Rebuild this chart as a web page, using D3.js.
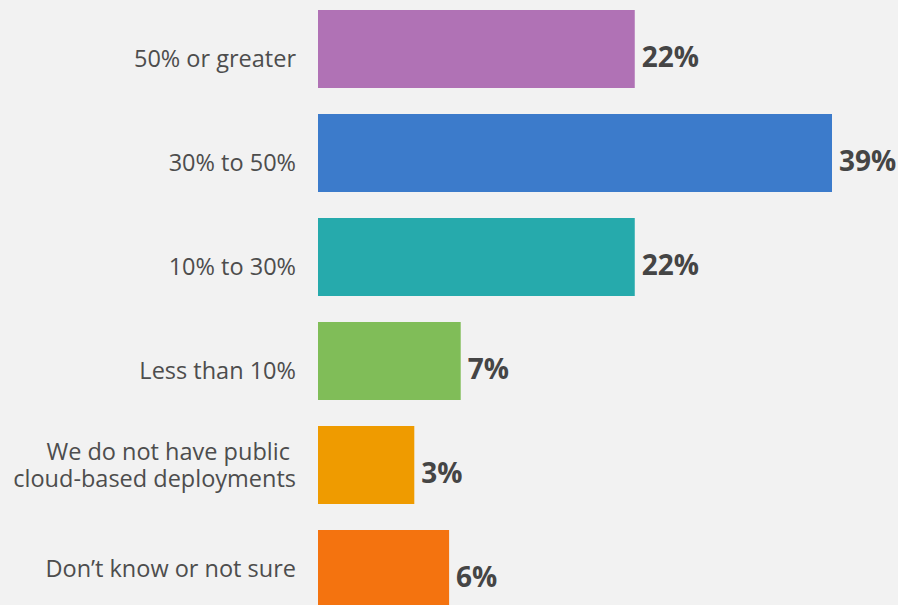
<!DOCTYPE html>
<html>
<head>
<meta charset="utf-8">
<script src="https://cdn.jsdelivr.net/npm/d3@7"></script>
<style>
  html, body { margin: 0; padding: 0; background: #f2f2f2; }
  svg { display: block; }
  text { font-family: "Open Sans", "Noto Sans", sans-serif; white-space: pre; }
</style>
</head>
<body>
<svg id="chart" width="898" height="605"></svg>
<script>
// Share of workloads in public cloud
const categories = [
  "50% or greater",
  "30% to 50%",
  "10% to 30%",
  "Less than 10%",
  "We do not have public \ncloud-based deployments",
  "Don\u2019t know or not sure"
];
const values = [22, 39, 22, 7, 3, 6];
const valueLabels = ["22%", "39%", "22%", "7%", "3%", "6%"];
const colors = ["#b072b5", "#3c7bcb", "#26aaac", "#80bd58", "#ef9b00", "#f4730f"];

const svg = d3.select("#chart");

const data = categories.map((c, i) => ({
  category: c, value: values[i], label: valueLabels[i], color: colors[i]
}));

const x = d3.scaleLinear().domain([-5.3, 39]).range([318, 832]);
const y = d3.scaleBand()
  .domain(categories)
  .range([-3, 621])
  .paddingInner(0.25)
  .paddingOuter(0.125);

// bars
svg.append("g").selectAll("rect")
  .data(data)
  .join("rect")
  .attr("x", x(x.domain()[0]))
  .attr("y", d => y(d.category))
  .attr("width", d => x(d.value) - x(x.domain()[0]))
  .attr("height", y.bandwidth())
  .attr("fill", d => d.color);

// value labels
svg.append("g").selectAll("text")
  .data(data)
  .join("text")
  .attr("x", d => x(d.value) + 7)
  .attr("y", d => y(d.category) + y.bandwidth() / 2 + 18)
  .attr("font-size", 28)
  .attr("font-weight", 700)
  .attr("fill", "#454545")
  .text(d => d.label);

// category labels
const lineHeight = 27;
const catG = svg.append("g");
data.forEach((d, i) => {
  const lines = d.category.split("\n");
  const cy = y(d.category) + y.bandwidth() / 2;
  const last = i === data.length - 1;
  const base = lines.length > 1
    ? cy - (lines.length - 1) * lineHeight / 2 + 8
    : cy + (last ? 8 : 18);
  lines.forEach((ln, j) => {
    catG.append("text")
      .attr("text-anchor", "end")
      .attr("font-size", 23.5)
      .attr("fill", "#4d4d4d")
      .attr("x", 296)
      .attr("y", base + j * lineHeight)
      .text(ln);
  });
});
</script>
</body>
</html>
